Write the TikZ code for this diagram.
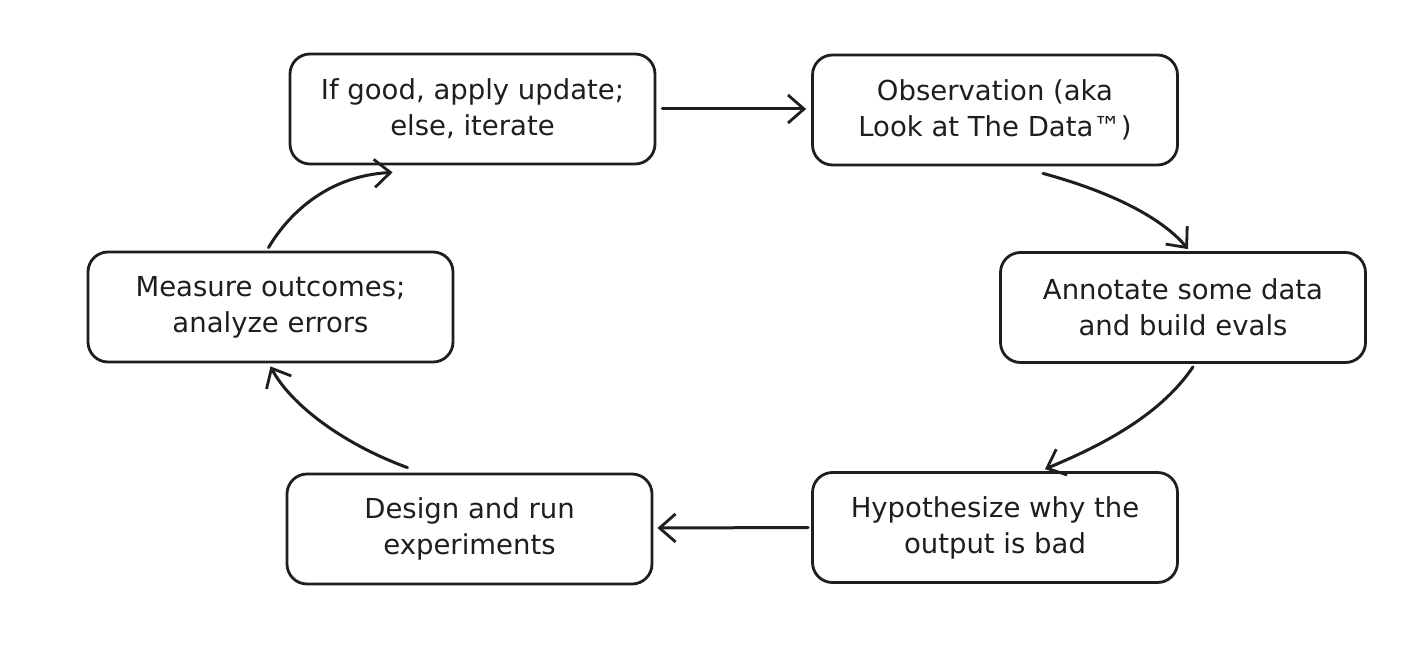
\documentclass[tikz,border=0pt]{standalone}
\usepackage{fontspec}
\setmainfont{DejaVu Sans}
\usetikzlibrary{arrows.meta,calc}
\definecolor{ink}{HTML}{1E1E1E}
\tikzset{
  stepbox/.style={draw=ink, line width=2.8pt, rounded corners=20pt, fill=white,
    minimum width=365pt, minimum height=110pt, align=center, text=ink,
    font=\fontsize{27.5}{36}\selectfont, inner sep=0pt},
  flow/.style={draw=ink, line width=3pt, line cap=round,
    -{Straight Barb[length=16pt,width=28pt,line width=2.8pt]}}
}
\begin{document}
\begin{tikzpicture}[x=1pt,y=-1pt]
\useasboundingbox (0,0) rectangle (1414,658);
\node[stepbox] (upd) at (472.5,109) {If good, apply update;\\else, iterate};
\node[stepbox] (obs) at (995,110) {Observation (aka\\Look at The Data™)};
\node[stepbox] (ann) at (1183,307.5) {Annotate some data\\and build evals};
\node[stepbox] (hyp) at (995,527.5) {Hypothesize why the\\output is bad};
\node[stepbox] (des) at (469.5,529) {Design and run\\experiments};
\node[stepbox] (mea) at (270.5,307) {Measure outcomes;\\analyze errors};

\draw[flow] ($(upd.east)+(6,0)$) -- ($(obs.west)+(-5,-1)$);
\draw[flow] ($(obs.south)+(48,7)$) .. controls ($(obs.south)+(125,28)$) and ($(obs.south)+(170,55)$) .. ($(ann.north)+(5,-2)$);
\draw[flow] ($(ann.south)+(10,3)$) .. controls ($(ann.south)+(-25,55)$) and ($(ann.south)+(-90,85)$) .. ($(hyp.north)+(50,-2)$);
\draw[flow] ($(hyp.west)+(-3,0)$) -- ($(des.east)+(4,-1)$);
\draw[flow] ($(des.north)+(-62,-5)$) .. controls ($(des.north)+(-130,-30)$) and ($(des.north)+(-180,-70)$) .. ($(mea.south)+(0,3)$);
\draw[flow] ($(mea.north)+(-2,-3)$) .. controls ($(mea.north)+(20,-40)$) and ($(mea.north)+(60,-75)$) .. ($(upd.south)+(-80,7)$);
\end{tikzpicture}
\end{document}
